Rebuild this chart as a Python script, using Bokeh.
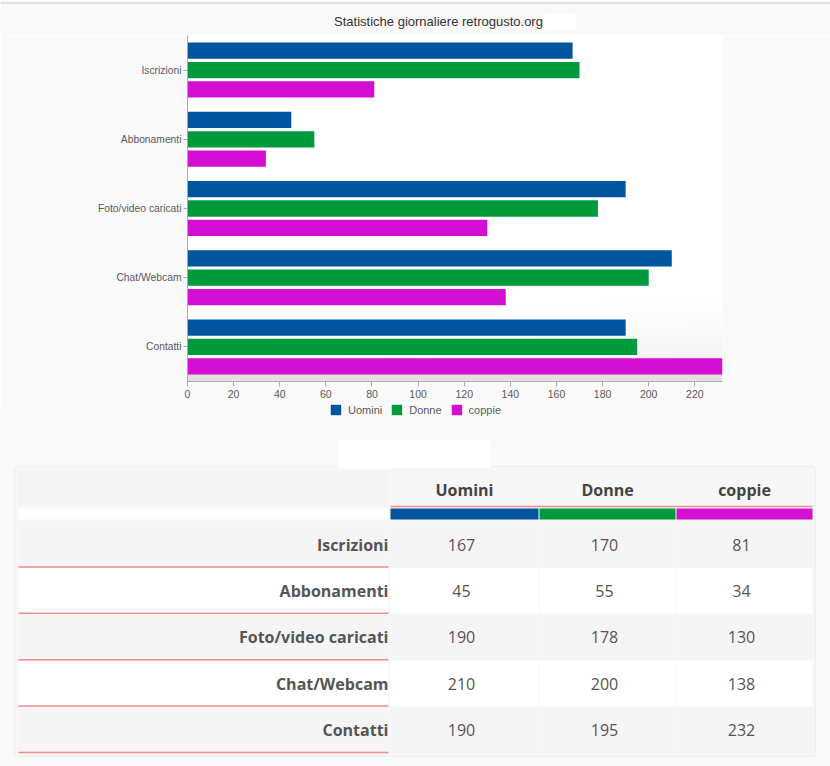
import numpy as np
from bokeh.plotting import figure
from bokeh.models import (ColumnDataSource, FactorRange, Range1d, Legend, LegendItem,
                          FixedTicker, BoxAnnotation)
from bokeh.transform import dodge
from bokeh.core.properties import value
from bokeh.embed import file_html
from bokeh.resources import INLINE

# ---------------- data ----------------
title_text = "Statistiche giornaliere retrogusto.org"
categories = ["Iscrizioni", "Abbonamenti", "Foto/video caricati", "Chat/Webcam", "Contatti"]
series = ["Uomini", "Donne", "coppie"]
uomini = [167, 45, 190, 210, 190]
donne = [170, 55, 178, 200, 195]
coppie = [81, 34, 130, 138, 232]
x_ticks = [0, 20, 40, 60, 80, 100, 120, 140, 160, 180, 200, 220]

# ---------------- style ----------------
colors = ["#00559f", "#009a3d", "#d20fd2"]
BG = "#f9f9f9"
W = 830
SANS = "Liberation Sans"
OPEN = "Open Sans"

def bare(fig, bg=BG):
    fig.grid.visible = False
    fig.outline_line_color = None
    fig.background_fill_color = bg
    fig.border_fill_color = bg

# ---------------- title strip (page y 0..35) ----------------
TT = 35
tf = figure(width=W, height=TT, x_range=Range1d(0, W), y_range=Range1d(TT, 0),
            output_backend="svg", toolbar_location=None, min_border=0,
            x_axis_location=None, y_axis_location=None)
bare(tf)
tf.segment(x0=[0], x1=[W], y0=[2.5], y1=[2.5], line_color="#e2e2e2", line_width=2)
tf.text(x=[438], y=[21], text=[title_text], text_align="center", text_baseline="middle",
        text_font=value(SANS), text_font_size="13px", text_color="#333333")
tf.quad(left=[544], right=[575], top=[13], bottom=[29], fill_color="white", line_color=None)

# ---------------- bar chart (page y 35..403) ----------------
all_vals = uomini + donne + coppie
source = ColumnDataSource(dict(cat=categories, Uomini=uomini, Donne=donne, coppie=coppie))
p = figure(width=W, height=368, y_range=FactorRange(factors=categories[::-1]),
           x_range=Range1d(0, max(all_vals)), output_backend="svg", toolbar_location=None)
p.min_border_left = 187
p.min_border_right = 108
p.min_border_top = 0
p.min_border_bottom = 22
bare(p)
p.background_fill_color = "white"

# soft background gradient at the bottom right of the plotting area
nx, ny = 120, 60
dh = 1.35
xs = np.linspace(0, 1, nx)[None, :]
ys = np.linspace(0, dh, ny)[:, None]
strip = 0.116
img = np.zeros((ny, nx), dtype=np.uint32)
view = img.view(dtype=np.uint8).reshape((ny, nx, 4))
fade = np.clip(1 - (ys - strip) / (dh - strip), 0, 1) ** 1.6 * (0.25 + 0.75 * xs) * 0.6
alpha = np.where(ys < strip, 1.0, fade)
level = np.where(ys < strip, 224, 226)
view[:, :, 0] = level
view[:, :, 1] = level
view[:, :, 2] = level
view[:, :, 3] = (alpha * 255).astype(np.uint8)
p.image_rgba(image=[img], x=0, y=0, dw=max(all_vals), dh=dh)

offsets = [0.28, 0.0, -0.28]
bar_renderers = []
for name, col, off in zip(series, colors, offsets):
    r = p.hbar(y=dodge("cat", off, range=p.y_range), right=name, left=0, height=0.235,
               source=source, fill_color=col, line_color=None)
    bar_renderers.append(r)

p.xaxis.ticker = FixedTicker(ticks=x_ticks)
for ax in (p.xaxis, p.yaxis):
    ax.axis_line_color = "#aaaaaa"
    ax.major_tick_line_color = "#aaaaaa"
    ax.minor_tick_line_color = None
    ax.major_tick_in = 0
    ax.major_label_text_font = SANS
    ax.major_label_text_color = "#5a5a5a"
p.xaxis.major_label_text_font_size = "10.5px"
p.yaxis.major_label_text_font_size = "10.3px"
p.xaxis.major_tick_out = 5
p.xaxis.major_label_standoff = 3
p.yaxis.major_tick_out = 4
p.yaxis.major_label_standoff = 2

# ---------------- legend + table (page y 403..766) ----------------
Y0 = 403
TH = 766 - Y0
t = figure(width=W, height=TH, x_range=Range1d(0, W), y_range=Range1d(Y0 + TH, Y0),
           output_backend="svg", toolbar_location=None, min_border=0,
           x_axis_location=None, y_axis_location=None)
bare(t)

# legend swatches (same colours as the bars; their single box lies outside the view)
swatches = [t.quad(left=[-30], right=[-20], top=[Y0 + 1], bottom=[Y0 + 2], fill_color=c,
                   line_color=None) for c in colors]
legend = Legend(items=[LegendItem(label=s, renderers=[r]) for s, r in zip(series, swatches)],
                orientation="horizontal", location="top", margin=0, padding=0,
                glyph_width=13, glyph_height=13, label_height=12, label_standoff=6,
                spacing=8, label_text_font=SANS, label_text_font_size="11px",
                label_text_color="#5a5a5a", background_fill_alpha=0,
                border_line_color=None)
t.add_layout(legend, "center")

t.add_layout(BoxAnnotation(left=14, right=815, top=466, bottom=756, fill_color="#f7f7f7",
                           fill_alpha=1, line_color="#d6d6d6", line_width=1,
                           border_radius=4, level="underlay"))
# redaction box above the table
t.quad(left=[338], right=[490], top=[440], bottom=[468], fill_color="white", line_color=None)

col_left = [390, 539, 676]
col_right = [538, 675, 812]
col_center = [(a + b) / 2 for a, b in zip(col_left, col_right)]

# header
t.quad(left=[18], right=[388], top=[470], bottom=[505], fill_color="#f4f4f4", line_color=None)
t.quad(left=[390], right=[812], top=[468], bottom=[505], fill_color="#f7f7f7", line_color=None)
t.text(x=col_center, y=[489] * 3, text=series, text_align="center", text_baseline="middle",
       text_font=value(OPEN), text_font_size="16px", text_font_style="bold", text_color="#444444")
t.segment(x0=[390], x1=[812], y0=[506], y1=[506], line_color="#f08c8c", line_width=1.5)
t.quad(left=col_left, right=col_right, top=[508] * 3, bottom=[519] * 3, fill_color=colors,
       line_color=None)
t.quad(left=[18], right=[388], top=[508], bottom=[519], fill_color="white", line_color=None)

# body rows
RH = 46.4
n = len(categories)
row_top = [521 + RH * i for i in range(n)]
row_fill = ["#f5f5f5" if i % 2 == 0 else "#ffffff" for i in range(n)]
t.quad(left=[18] * n, right=[388] * n, top=row_top, bottom=[y + RH - 1 for y in row_top],
       fill_color=row_fill, line_color=None)
for cl, cr in zip(col_left, col_right):
    t.quad(left=[cl] * n, right=[cr] * n, top=row_top, bottom=[y + RH - 0.5 for y in row_top],
           fill_color=row_fill, line_color=None)
t.segment(x0=[18] * n, x1=[388] * n, y0=[y + RH - 1 for y in row_top],
          y1=[y + RH - 1 for y in row_top], line_color="#f08c8c", line_width=1.5)
row_mid = [y + 23 for y in row_top]
t.text(x=[388] * n, y=row_mid, text=categories, text_align="right", text_baseline="middle",
       text_font=value(OPEN), text_font_size="16px", text_font_style="bold", text_color="#555555")
for vals, cx in zip([uomini, donne, coppie], col_center):
    t.text(x=[cx - 3] * n, y=row_mid, text=[str(v) for v in vals], text_align="center",
           text_baseline="middle", text_font=value(OPEN), text_font_size="16px",
           text_color="#555555")

open("out.html", "w").write(file_html([tf, p, t], INLINE))
